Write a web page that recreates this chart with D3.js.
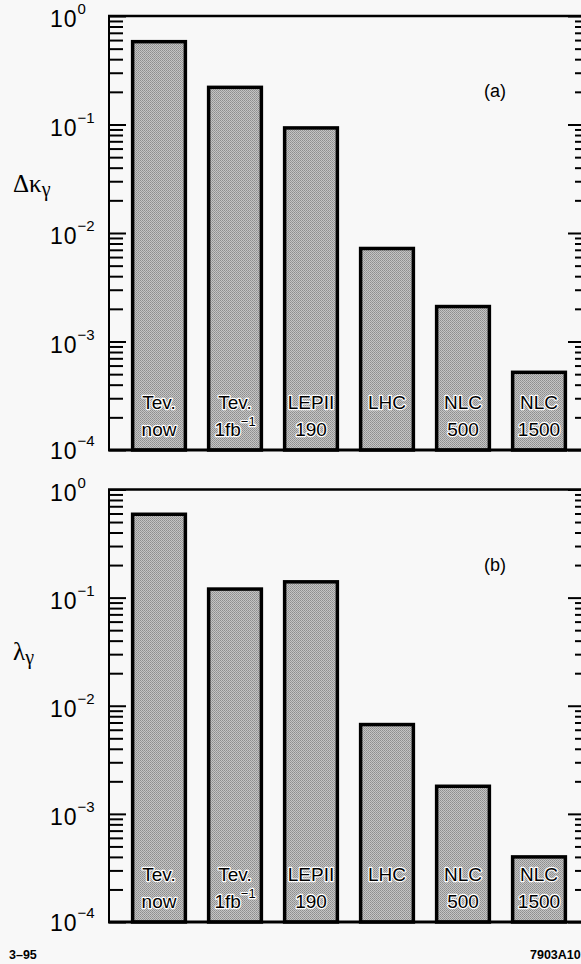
<!DOCTYPE html>
<html><head><meta charset="utf-8">
<script src="https://cdn.jsdelivr.net/npm/d3@7"></script>
<style>
html,body{margin:0;padding:0;background:#f8f8f8;}
svg{display:block;}
</style></head>
<body>
<svg id="chart" width="581" height="964"></svg>
<script>
// ---- data ----
const labelLine1 = ["Tev.", "Tev.", "LEPII", "LHC", "NLC", "NLC"];
const labelLine2 = ["now", "1fb-1", "190", "", "500", "1500"];
const deltaKappa = [0.58, 0.22, 0.093, 0.0072, 0.0021, 0.00052];
const lambdaGamma = [0.59, 0.12, 0.14, 0.0067, 0.0018, 0.0004];
const decadeExponents = [0, -1, -2, -3, -4];
const panelTags = ["(a)", "(b)"];
const yTitles = [["Δκ", "γ"], ["λ", "γ"]];

const svg = d3.select("#chart");
const font = "'Liberation Sans', Arial, Helvetica, sans-serif";

// halftone-like fill
const defs = svg.append("defs");
const pat = defs.append("pattern").attr("id", "halftone").attr("width", 2).attr("height", 2)
  .attr("patternUnits", "userSpaceOnUse");
pat.append("rect").attr("width", 2).attr("height", 2).attr("fill", "#c4c4c4");
pat.append("rect").attr("width", 1).attr("height", 1).attr("fill", "#8e8e8e");
pat.append("rect").attr("x", 1).attr("y", 1).attr("width", 1).attr("height", 1).attr("fill", "#9a9a9a");

const panels = [
  {values: deltaKappa, top: 16, bottom: 450, tag: panelTags[0], title: yTitles[0], titleY: 192},
  {values: lambdaGamma, top: 489.5, bottom: 922, tag: panelTags[1], title: yTitles[1], titleY: 660}
];

const xLeft = 109, xRight = 583;
const idx = d3.range(labelLine1.length);
const x = d3.scaleBand().domain(idx).range([121, 577]).paddingInner(0.26).paddingOuter(0.13);

const minorVals = [];
for (let e = -4; e < 0; e++) for (let m = 2; m <= 9; m++) minorVals.push(m * Math.pow(10, e));
const majorVals = decadeExponents.map(e => Math.pow(10, e));

panels.forEach((p, pi) => {
  const y = d3.scaleLog().domain([1e-4, 1]).range([p.bottom, p.top]);
  const g = svg.append("g");

  // bars
  g.selectAll("rect.bar").data(p.values).join("rect")
    .attr("class", "bar")
    .attr("x", (d, i) => x(i) + 1.75)
    .attr("width", x.bandwidth() - 3.5)
    .attr("y", d => y(d))
    .attr("height", d => p.bottom - y(d))
    .attr("fill", "url(#halftone)")
    .attr("stroke", "#000")
    .attr("stroke-width", 3.5);

  // ticks (pointing inward)
  const axL1 = g.append("g").attr("transform", `translate(${xLeft},0)`)
    .call(d3.axisRight(y).tickValues(minorVals).tickSize(14).tickFormat(""));
  const axL2 = g.append("g").attr("transform", `translate(${xLeft},0)`)
    .call(d3.axisRight(y).tickValues(majorVals).tickSize(17).tickFormat(""));
  const axR1 = g.append("g").attr("transform", `translate(${xRight},0)`)
    .call(d3.axisLeft(y).tickValues(minorVals).tickSize(8).tickFormat(""));
  const axR2 = g.append("g").attr("transform", `translate(${xRight},0)`)
    .call(d3.axisLeft(y).tickValues(majorVals).tickSize(15).tickFormat(""));
  [axL1, axL2, axR1, axR2].forEach(a => {
    a.select(".domain").remove();
    a.selectAll("line").attr("stroke", "#000").attr("stroke-width", 2);
  });

  // frame
  g.append("line").attr("x1", xLeft).attr("x2", xLeft).attr("y1", p.top).attr("y2", p.bottom)
    .attr("stroke", "#000").attr("stroke-width", 2);
  g.append("line").attr("x1", xLeft - 1).attr("x2", 581).attr("y1", p.top).attr("y2", p.top)
    .attr("stroke", "#000").attr("stroke-width", 2.5);
  g.append("line").attr("x1", xLeft - 1).attr("x2", 581).attr("y1", p.bottom).attr("y2", p.bottom)
    .attr("stroke", "#000").attr("stroke-width", 3);

  // y tick labels
  decadeExponents.forEach(e => {
    const yy = y(Math.pow(10, e));
    const off = e === -4 ? 9 : 11;
    const t = g.append("text").attr("x", 50).attr("y", yy + off)
      .attr("font-family", font).attr("font-size", 23).attr("letter-spacing", 1).attr("fill", "#000");
    t.append("tspan").text("10");
    t.append("tspan").attr("dx", 0).attr("dy", -13).attr("font-size", 15).attr("letter-spacing", 0)
      .text(e === 0 ? "0" : "−" + Math.abs(e));
  });

  // y title
  const tt = g.append("text").attr("x", 13).attr("y", p.titleY)
    .attr("font-family", "'Liberation Serif', 'DejaVu Serif', serif").attr("font-size", 25).attr("fill", "#000");
  tt.append("tspan").text(p.title[0]);
  tt.append("tspan").attr("dy", 4).attr("font-size", 20).text(p.title[1]);

  // panel tag
  g.append("text").attr("x", 495).attr("y", p.top + 81).attr("text-anchor", "middle")
    .attr("font-family", font).attr("font-size", 18).attr("fill", "#000").text(p.tag);

  // bar labels
  idx.forEach(i => {
    const cx = x(i) + x.bandwidth() / 2;
    const lab = (s, yy) => {
      const t = g.append("text").attr("x", cx).attr("y", yy).attr("text-anchor", "middle")
        .attr("font-family", font).attr("font-size", 19).attr("fill", "#000")
        .attr("stroke", "#fff").attr("stroke-width", 2.4).attr("paint-order", "stroke")
        .attr("stroke-linejoin", "round");
      if (s === "1fb-1") {
        t.append("tspan").text("1fb");
        t.append("tspan").attr("dy", -10).attr("font-size", 13).text("−1");
      } else t.text(s);
    };
    lab(labelLine1[i], p.bottom - 41);
    if (labelLine2[i]) lab(labelLine2[i], p.bottom - 14);
  });
});

// footer
svg.append("text").attr("x", 9).attr("y", 959).attr("font-family", font).attr("font-weight", "bold")
  .attr("font-size", 12.5).text("3–95");
svg.append("text").attr("x", 530).attr("y", 959).attr("font-family", font).attr("font-weight", "bold")
  .attr("font-size", 12.5).text("7903A10");
</script>
</body></html>
